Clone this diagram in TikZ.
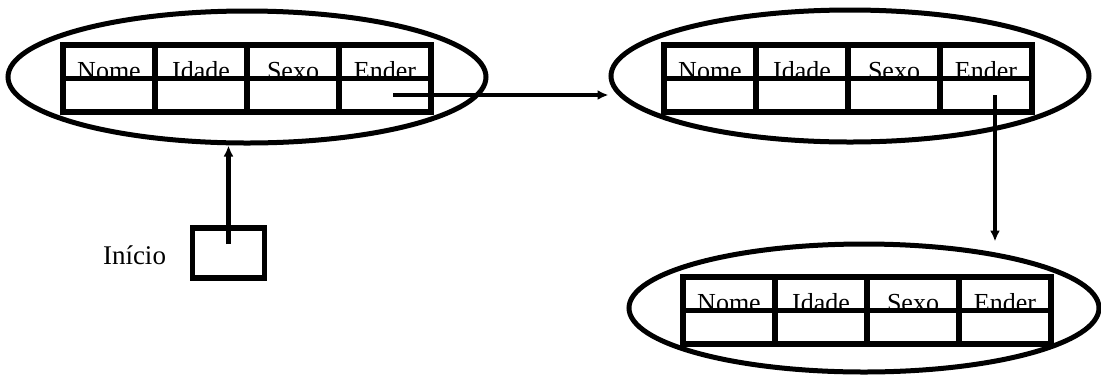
\documentclass[tikz,border=0pt]{standalone}
\usepackage{fontspec}
\setmainfont{Liberation Serif}
\usetikzlibrary{shapes.geometric,arrows.meta}

\tikzset{
  record/.style={draw, ellipse, line width=5pt, inner sep=0pt,
    minimum width=478pt, minimum height=132pt},
  cell/.style={draw, line width=5.5pt, inner sep=0pt, outer sep=0pt,
    minimum width=92pt, minimum height=33.5pt},
  field/.style={anchor=base, inner sep=0pt, yshift=-1pt,
    font=\fontsize{26}{30}\selectfont},
  link/.style={line width=4.5pt, -{Latex[length=11pt,width=10pt]}}
}

\begin{document}
\begin{tikzpicture}[x=1pt,y=-1pt]
    \useasboundingbox (0,0) rectangle (1101,376) ;
    % first record
    \node[record] (e1) at (247,77) {} ;
    \node[cell] (h1-1) at (109,61.5) {} ;
    \node[cell] (h1-2) at (201,61.5) {} ;
    \node[cell] (h1-3) at (293,61.5) {} ;
    \node[cell] (h1-4) at (385,61.5) {} ;
    \node[cell] (f1-1) at (109,95) {} ;
    \node[cell] (f1-2) at (201,95) {} ;
    \node[cell] (f1-3) at (293,95) {} ;
    \node[cell] (f1-4) at (385,95) {} ;
    \node[field] at (h1-1.south) {Nome} ;
    \node[field] at (h1-2.south) {Idade} ;
    \node[field] at (h1-3.south) {Sexo} ;
    \node[field] at (h1-4.south) {Ender} ;
    % second record
    \node[record] (e2) at (850,76) {} ;
    \node[cell] (h2-1) at (710,61.5) {} ;
    \node[cell] (h2-2) at (802,61.5) {} ;
    \node[cell] (h2-3) at (894,61.5) {} ;
    \node[cell] (h2-4) at (986,61.5) {} ;
    \node[cell] (f2-1) at (710,95) {} ;
    \node[cell] (f2-2) at (802,95) {} ;
    \node[cell] (f2-3) at (894,95) {} ;
    \node[cell] (f2-4) at (986,95) {} ;
    \node[field] at (h2-1.south) {Nome} ;
    \node[field] at (h2-2.south) {Idade} ;
    \node[field] at (h2-3.south) {Sexo} ;
    \node[field] at (h2-4.south) {Ender} ;
    % third record
    \node[record, minimum width=470pt, minimum height=128pt] (e3) at (864,308) {} ;
    \node[cell] (h3-1) at (729,293.5) {} ;
    \node[cell] (h3-2) at (821,293.5) {} ;
    \node[cell] (h3-3) at (913,293.5) {} ;
    \node[cell] (h3-4) at (1005,293.5) {} ;
    \node[cell] (f3-1) at (729,327) {} ;
    \node[cell] (f3-2) at (821,327) {} ;
    \node[cell] (f3-3) at (913,327) {} ;
    \node[cell] (f3-4) at (1005,327) {} ;
    \node[field] at (h3-1.south) {Nome} ;
    \node[field] at (h3-2.south) {Idade} ;
    \node[field] at (h3-3.south) {Sexo} ;
    \node[field] at (h3-4.south) {Ender} ;
    % start pointer
    \node[draw, line width=5.5pt, minimum width=72pt, minimum height=50pt] (box) at (228.5,253) {} ;
    \node[field, font=\fontsize{27}{30}\selectfont, yshift=0pt] (start) at (134.5,263) {Início} ;
    % links
    \coordinate (p1) at ([xshift=8pt]f1-4.center) ;
    \coordinate (p2) at ([xshift=9pt]f2-4.center) ;
    \coordinate (p3) at ([yshift=9pt]box.center) ;
    \draw[link] (p1) -- (p1 -| e2.west) ;
    \draw[link] (p2) -- (p2 |- e3.north) ;
    \draw[link] (p3) -- (p3 |- e1.south) ;
  \end{tikzpicture}
\end{document}
